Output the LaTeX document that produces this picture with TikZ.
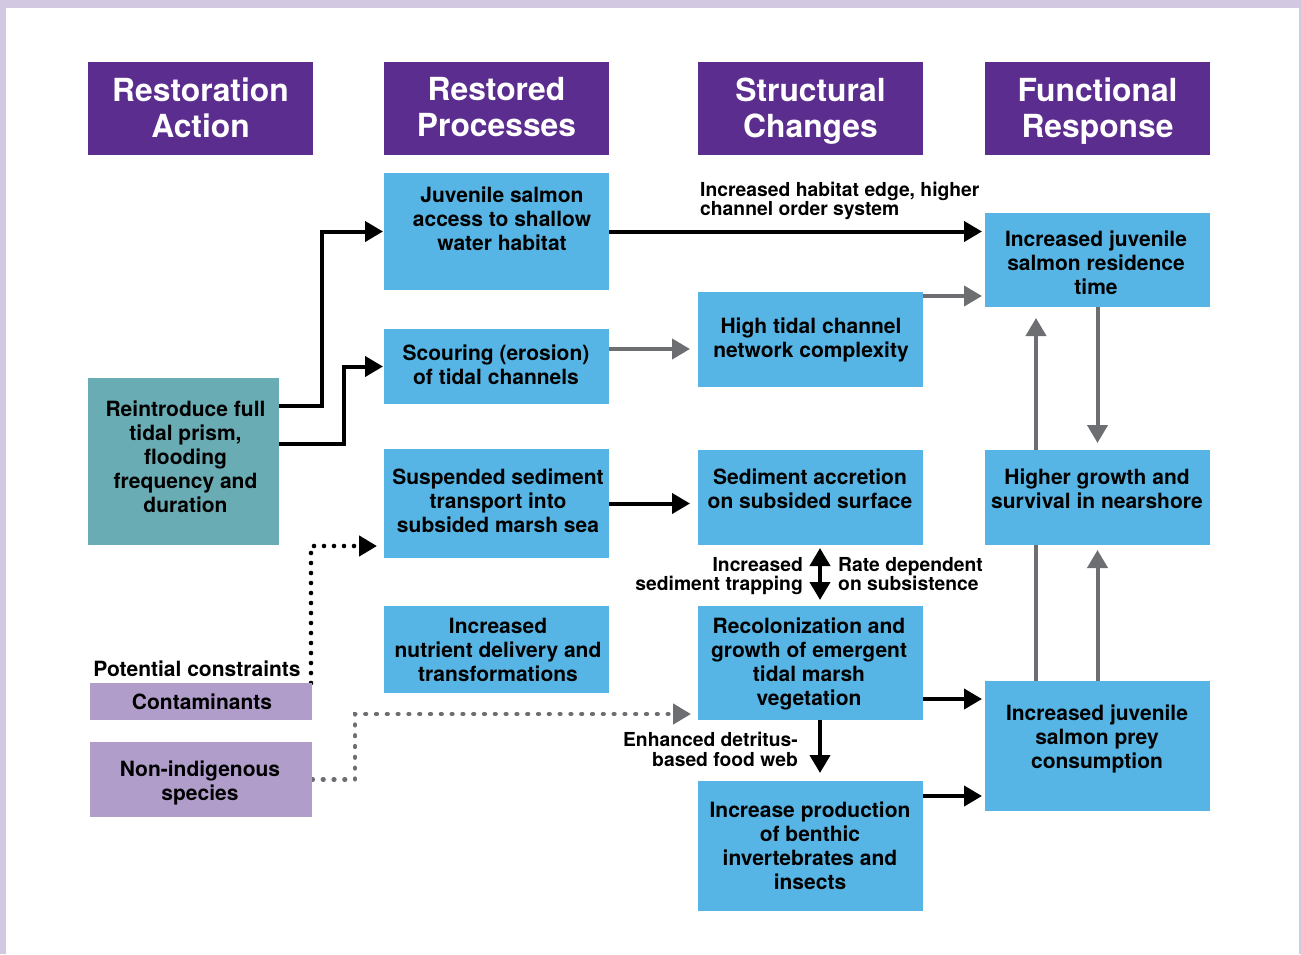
\documentclass[tikz,border=0pt]{standalone}
\usepackage{fontspec}
\setmainfont{TeX Gyre Heros}
\usetikzlibrary{arrows.meta}
\definecolor{hdr}{HTML}{5B2D8E}
\definecolor{bluebx}{HTML}{56B5E4}
\definecolor{tealbx}{HTML}{6AACB4}
\definecolor{lilac}{HTML}{B19DCA}
\definecolor{lav}{HTML}{D2C8E2}
\definecolor{arrgray}{HTML}{6D6E72}
\pgfdeclarelayer{bg}
\pgfsetlayers{bg,main}
\begin{document}
\begin{tikzpicture}[x=1pt,y=-1pt,
  box/.style={rectangle, inner sep=0pt, outer sep=0pt, draw=none},
  hbox/.style={box, fill=hdr, minimum width=225pt, minimum height=93pt},
  bbox/.style={box, fill=bluebx},
  strutted/.style={inner sep=0pt, execute at begin node=\strut, execute at end node=\strut},
  htxt/.style={strutted, align=center, text=white, font=\fontsize{31.8}{36}\selectfont\bfseries},
  btxt/.style={strutted, align=center, text=black, font=\fontsize{21}{24}\selectfont\bfseries},
  ltxt/.style={strutted, text=black, font=\fontsize{19.3}{19.5}\selectfont\bfseries},
  tip/.tip={Triangle[length=18pt,width=20pt]},
  blk/.style={line width=4pt, draw=black, -tip, shorten >=1pt},
  gry/.style={line width=4pt, draw=arrgray, -tip},
  dotblk/.style={line width=4.6pt, draw=black, dash pattern=on 0pt off 10pt, line cap=round, -tip},
  dotgry/.style={line width=4.4pt, draw=arrgray, dash pattern=on 0.8pt off 10pt, line cap=round, -tip}
]
\useasboundingbox (0,0) rectangle (1301,954);

% headers
\node[hbox] (hA) at (200.5,108.5) {};
\node[hbox] (hB) at (496.5,108.5) {};
\node[hbox] (hC) at (810.5,108.5) {};
\node[hbox] (hD) at (1097.5,108.5) {};
\node[htxt] (hA-t) at (200.5,112.8) {Restoration\\Action};
\node[htxt] (hB-t) at (496.5,112.8) {Restored\\Processes};
\node[htxt] (hC-t) at (810.5,112.8) {Structural\\Changes};
\node[htxt] (hD-t) at (1097.5,112.8) {Functional\\Response};

% column 1
\node[box, fill=tealbx, minimum width=191pt, minimum height=167pt] (reint) at (183.5,461.5) {};
\node[btxt] (reint-t) at (185.5,460) {Reintroduce full\\tidal prism,\\flooding\\frequency and\\duration};
\node[btxt] (pc-t) at (197,672) {Potential constraints};
\node[box, fill=lilac, minimum width=222pt, minimum height=37pt] (contam) at (201,701.5) {};
\node[btxt] (contam-t) at (202,705) {Contaminants};
\node[box, fill=lilac, minimum width=222pt, minimum height=75pt] (nonind) at (201,779.5) {};
\node[btxt] (nonind-t) at (200,784) {Non-indigenous\\species};

% column 2
\node[bbox, minimum width=225pt, minimum height=117pt] (jsa) at (496.5,231.5) {};
\node[btxt] (jsa-t) at (502,222) {Juvenile salmon\\access to shallow\\water habitat};
\node[bbox, minimum width=225pt, minimum height=75pt] (scour) at (496.5,366.5) {};
\node[btxt] (scour-t) at (496,368) {Scouring (erosion)\\of tidal channels};
\node[bbox, minimum width=225pt, minimum height=109pt] (susp) at (496.5,503.5) {};
\node[btxt] (susp-t) at (498,504) {Suspended sediment\\transport into\\subsided marsh sea};
\node[bbox, minimum width=225pt, minimum height=87pt] (nutr) at (496.5,649.5) {};
\node[btxt] (nutr-t) at (498,653) {Increased\\nutrient delivery and\\transformations};

% column 3
\node[bbox, minimum width=225pt, minimum height=95pt] (high) at (810.5,339.5) {};
\node[btxt] (high-t) at (811,341) {High tidal channel\\network complexity};
\node[bbox, minimum width=225pt, minimum height=95pt] (sedacc) at (810.5,497.5) {};
\node[btxt] (sedacc-t) at (810,492) {Sediment accretion\\on subsided surface};
\node[bbox, minimum width=225pt, minimum height=114pt] (recol) at (810.5,663) {};
\node[btxt] (recol-t) at (809,665) {Recolonization and\\growth of emergent\\tidal marsh\\vegetation};
\node[bbox, minimum width=225pt, minimum height=130pt] (incprod) at (810.5,846) {};
\node[btxt] (incprod-t) at (810,849) {Increase production\\of benthic\\invertebrates and\\insects};

% column 4
\node[bbox, minimum width=225pt, minimum height=94pt] (resid) at (1097.5,260) {};
\node[btxt] (resid-t) at (1096,266) {Increased juvenile\\salmon residence\\time};
\node[bbox, minimum width=225pt, minimum height=95pt] (higher) at (1097.5,497.5) {};
\node[btxt] (higher-t) at (1097,492) {Higher growth and\\survival in nearshore};
\node[bbox, minimum width=225pt, minimum height=130pt] (prey) at (1097.5,746) {};
\node[btxt] (prey-t) at (1097,740) {Increased juvenile\\salmon prey\\consumption};

% labels
\node[ltxt, align=left, anchor=west] (lab-hab) at (700,201.5) {Increased habitat edge, higher\\channel order system};
\node[ltxt, align=right, anchor=east] (lab-trap) at (803,577) {Increased\\sediment trapping};
\node[ltxt, align=left, anchor=west] (lab-rate) at (838,577) {Rate dependent\\on subsistence};
\node[ltxt, align=right, anchor=east] (lab-det) at (798,752) {Enhanced detritus-\\based food web};

% ports
\coordinate (r1) at ([yshift=55.5pt]reint.east);
\coordinate (r2) at ([yshift=17.5pt]reint.east);
\coordinate (s1) at ([yshift=17.5pt]scour.east);
\coordinate (h1) at ([yshift=43.5pt]high.east);
\coordinate (sa) at ([xshift=9.5pt]sedacc.south);
\coordinate (rc1) at ([yshift=-36pt]recol.east);
\coordinate (rc2) at ([xshift=9.5pt]recol.south);
\coordinate (ip1) at ([yshift=50pt]incprod.east);
\coordinate (p1) at ([xshift=-61.5pt]prey.north);
\coordinate (ct) at ([xshift=-1pt]contam.north east);
\coordinate (su) at ([yshift=-42.5pt]susp.west);
\coordinate (rw) at ([yshift=-51pt]recol.west);

\begin{pgfonlayer}{bg}
\fill[white] (0,0) rectangle (1301,954);
\fill[lav] (0,0) rectangle (1301,8);
\fill[lav] (0,0) rectangle (6,954);
\fill[lav] (1298.5,0) rectangle (1301,954);
\draw[blk] (r1) -- ++(43,0) |- (jsa.west);
\draw[blk] (r2) -- ++(65,0) |- (scour.west);
\draw[blk, shorten >=3pt] (jsa.east) -- (jsa.east -| resid.west);
\draw[gry, shorten >=8pt] (s1) -- (s1 -| high.west);
\draw[gry, shorten >=3pt] (h1) -- (h1 -| resid.west);
\draw[blk, shorten >=8pt] (susp.east) -- (susp.east -| sedacc.west);
\draw[line width=4pt, tip-tip, shorten <=3pt, shorten >=6pt] (sa) -- (sa |- recol.north);
\draw[blk, shorten >=3pt] (rc1) -- (rc1 -| prey.west);
\draw[blk, shorten >=8pt] (rc2) -- (rc2 |- incprod.north);
\draw[blk, shorten >=3pt] (ip1) -- (ip1 -| prey.west);
\draw[gry, shorten >=11pt] (p1) -- (p1 |- resid.south);
\draw[gry, shorten >=7pt] (resid.south) -- (higher.north);
\draw[gry, shorten >=5pt] (prey.north) -- (higher.south);
\draw[dotblk, shorten >=7pt] (ct) |- (su);
\draw[dotgry, shorten >=7pt] (nonind.east) -- ++(43,0) |- (rw);
\end{pgfonlayer}
\end{tikzpicture}
\end{document}
